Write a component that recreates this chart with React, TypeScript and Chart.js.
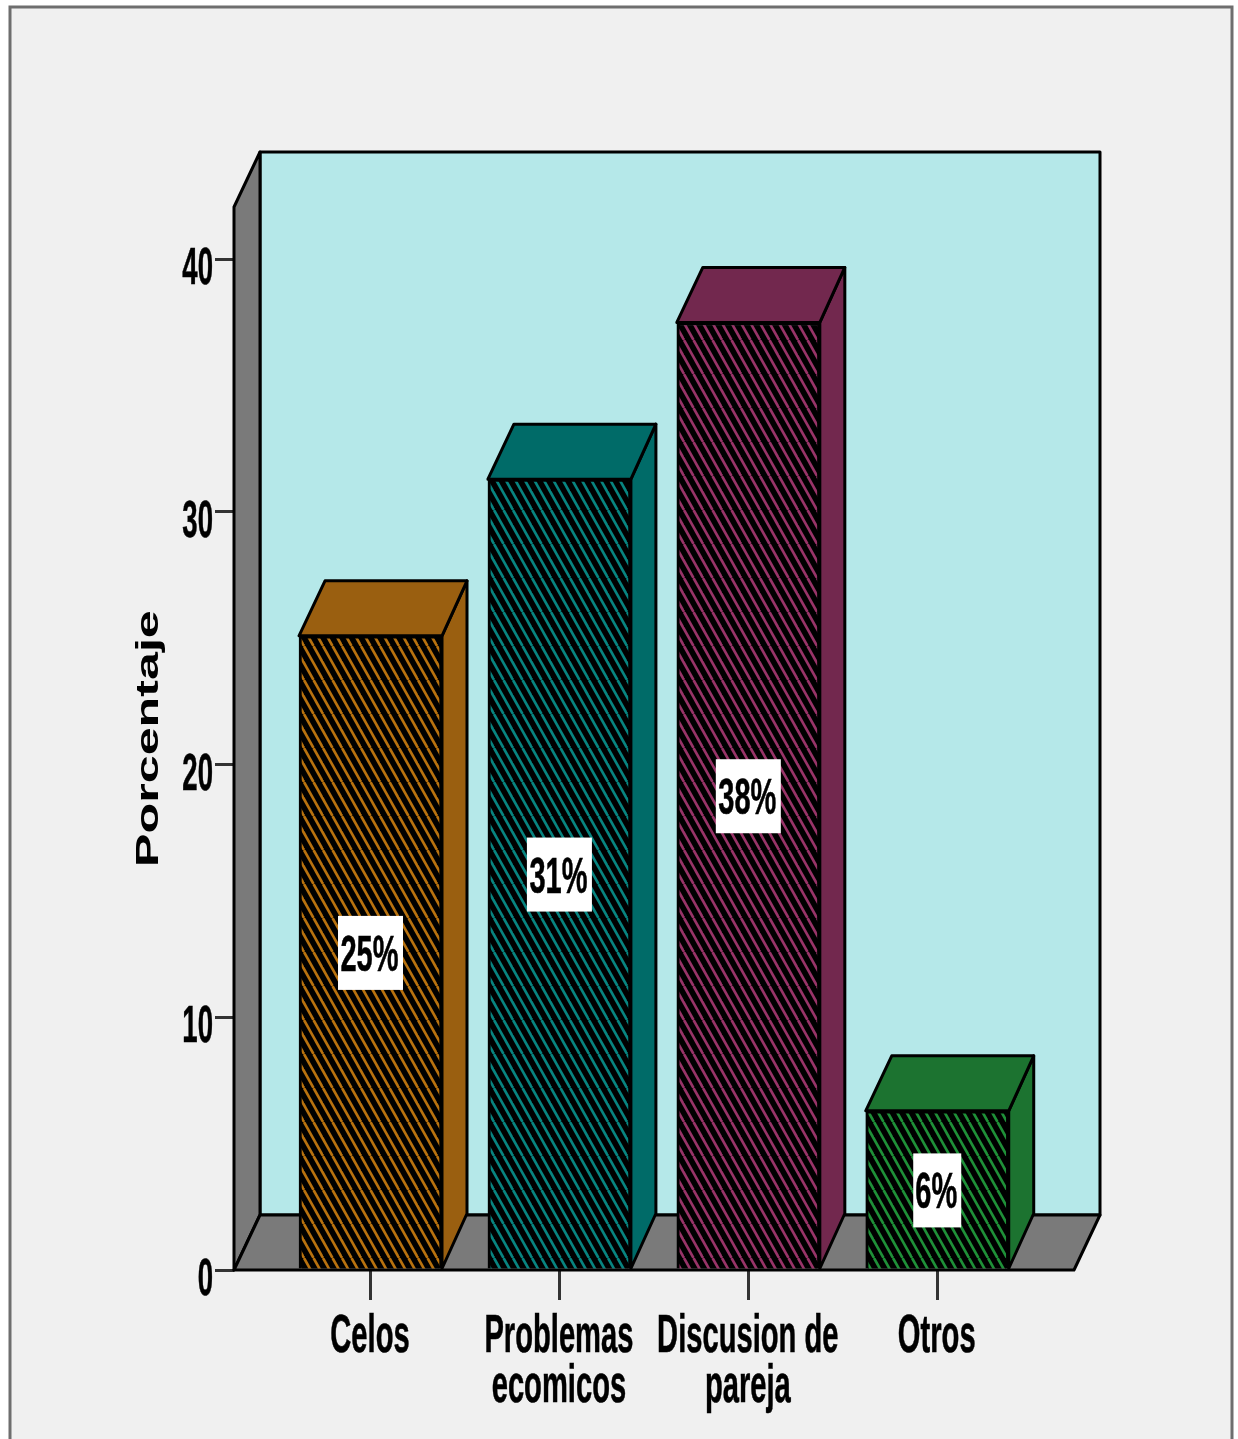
import React, { useEffect, useRef } from "react";
import { Chart, registerables } from "chart.js";

Chart.register(...registerables);

const categories: string[][] = [["Celos"], ["Problemas", "ecomicos"], ["Discusion de", "pareja"], ["Otros"]];
const porcentaje: number[] = [25.1, 31.3, 37.5, 6.3];
const etiquetas: string[] = ["25%", "31%", "38%", "6%"];
const colores: string[] = ["#9A5F10", "#006B68", "#72284E", "#1C7330"];
const hatchStripes: string[] = ["#B8720F", "#088480", "#983468", "#1F9038"];
const yTickValues: number[] = [0, 10, 20, 30, 40];
const xTickValues: number[] = [0, 1, 2, 3];
const yTitle = "Porcentaje";

const DX = 26;
const DY = -55;
const FONT = '"Liberation Sans", Arial, sans-serif';

function stretchedText(ctx: CanvasRenderingContext2D, text: string, x: number, y: number, size: number, sx: number, align: CanvasTextAlign) {
  ctx.save();
  ctx.translate(x, y);
  ctx.scale(sx, 1);
  ctx.font = `bold ${size}px ${FONT}`;
  ctx.textAlign = align;
  ctx.textBaseline = "alphabetic";
  ctx.fillStyle = "#000";
  ctx.strokeStyle = "#000";
  ctx.lineWidth = 0.6;
  ctx.fillText(text, 0, 0);
  ctx.strokeText(text, 0, 0);
  ctx.restore();
}

function poly(ctx: CanvasRenderingContext2D, pts: number[][], fill: string, lw = 3) {
  ctx.beginPath();
  pts.forEach((p, i) => (i ? ctx.lineTo(p[0], p[1]) : ctx.moveTo(p[0], p[1])));
  ctx.closePath();
  ctx.fillStyle = fill;
  ctx.fill();
  ctx.lineWidth = lw;
  ctx.lineJoin = "round";
  ctx.strokeStyle = "#000";
  ctx.stroke();
}

function hatch(base: string, stripe: string): CanvasPattern | string {
  const w = 19;
  const h = 34;
  const c = document.createElement("canvas");
  c.width = w;
  c.height = h;
  const g = c.getContext("2d")!;
  g.fillStyle = "#000";
  g.fillRect(0, 0, w, h);
  g.strokeStyle = stripe;
  g.lineWidth = 2.6;
  for (let k = -4; k <= 4; k++) {
    g.beginPath();
    g.moveTo((k * w) / 2, 0);
    g.lineTo((k * w) / 2 + w, h);
    g.stroke();
  }
  return g.createPattern(c, "repeat") || base;
}

const scene = {
  id: "scene",
  beforeDraw(chart: any) {
    const ctx = chart.ctx as CanvasRenderingContext2D;
    ctx.save();
    ctx.fillStyle = "#FFFFFF";
    ctx.fillRect(0, 0, chart.width, chart.height);
    ctx.fillStyle = "#F0F0F0";
    ctx.fillRect(10, 7, 1222, chart.height - 7);
    ctx.strokeStyle = "#6E6E6E";
    ctx.lineWidth = 3;
    ctx.beginPath();
    ctx.moveTo(10, chart.height);
    ctx.lineTo(10, 7);
    ctx.lineTo(1232, 7);
    ctx.lineTo(1232, chart.height);
    ctx.stroke();
    ctx.restore();
  },
  beforeDatasetsDraw(chart: any) {
    const ctx = chart.ctx as CanvasRenderingContext2D;
    const { left, right, top, bottom } = chart.chartArea;
    ctx.save();
    poly(ctx, [[left + DX, top + DY], [right + DX, top + DY], [right + DX, bottom + DY], [left + DX, bottom + DY]], "#B5E8E9");
    poly(ctx, [[left, top], [left + DX, top + DY], [left + DX, bottom + DY], [left, bottom]], "#7A7A7A");
    poly(ctx, [[left, bottom], [left + DX, bottom + DY], [right + DX, bottom + DY], [right, bottom]], "#7A7A7A");
    const meta = chart.getDatasetMeta(0);
    meta.data.forEach((bar: any, i: number) => {
      const half = bar.width / 2;
      const l = bar.x - half;
      const r = bar.x + half;
      const t = bar.y;
      const b = bar.base;
      poly(ctx, [[r, t], [r + DX - 1, t + DY], [r + DX - 1, b + DY], [r, b]], colores[i]);
      poly(ctx, [[l, t], [l + DX, t + DY], [r + DX - 1, t + DY], [r, t]], colores[i]);
    });
    ctx.restore();
  },
  afterDatasetsDraw(chart: any) {
    const ctx = chart.ctx as CanvasRenderingContext2D;
    const { x, y } = chart.scales;
    ctx.save();
    const meta = chart.getDatasetMeta(0);
    meta.data.forEach((bar: any, i: number) => {
      const cy = y.getPixelForValue(porcentaje[i] / 2);
      const w = etiquetas[i].length === 2 ? 48 : 65;
      ctx.fillStyle = "#FFFFFF";
      ctx.fillRect(bar.x - w / 2, cy - 37, w, 74);
      stretchedText(ctx, etiquetas[i], bar.x - 1, cy + 18, 50, 0.58, "center");
    });
    yTickValues.forEach((v) => {
      stretchedText(ctx, String(v), 213, y.getPixelForValue(v) + 25, 51, 0.54, "right");
    });
    xTickValues.forEach((v, i) => {
      categories[i].forEach((line, j) => {
        stretchedText(ctx, line, x.getPixelForValue(v) - 0.5, 1352 + j * 50, 53, 0.55, "center");
      });
    });
    ctx.translate(158, 867);
    ctx.rotate(-Math.PI / 2);
    ctx.scale(1.62, 1);
    ctx.font = `bold 31px ${FONT}`;
    ctx.fillStyle = "#000";
    ctx.textAlign = "left";
    ctx.fillText(yTitle, 0, 0);
    ctx.restore();
  },
};

export default function App() {
  const ref = useRef<HTMLCanvasElement>(null);
  useEffect(() => {
    document.body.style.margin = "0";
    const chart = new Chart(ref.current!, {
      type: "bar",
      data: {
        datasets: [
          {
            label: yTitle,
            data: porcentaje.map((v, i) => ({ x: xTickValues[i], y: v })),
            backgroundColor: colores.map((c, i) => hatch(c, hatchStripes[i])),
            borderColor: "#000",
            borderWidth: 3,
            barThickness: 143,
          },
        ],
      },
      options: {
        responsive: false,
        animation: false,
        devicePixelRatio: 1,
        layout: { padding: { left: 0, top: 207, right: 164, bottom: 0 } },
        plugins: { legend: { display: false }, tooltip: { enabled: false }, title: { display: false } },
        scales: {
          x: {
            type: "linear",
            min: -0.7226,
            max: 3.724,
            offset: false,
            afterBuildTicks: (s: any) => {
              s.ticks = xTickValues.map((value) => ({ value }));
            },
            afterFit: (s: any) => {
              s.height = 169;
            },
            grid: { display: true, offset: false, drawOnChartArea: false, drawTicks: true, tickLength: 30, tickColor: "#333", tickWidth: 3, lineWidth: 3, color: "#000" },
            border: { display: false },
            ticks: { display: false },
          },
          y: {
            type: "linear",
            min: 0,
            max: 42.07,
            afterBuildTicks: (s: any) => {
              s.ticks = yTickValues.map((value) => ({ value }));
            },
            afterFit: (s: any) => {
              s.width = 234;
            },
            grid: { display: true, drawOnChartArea: false, drawTicks: true, tickLength: 19, tickColor: "#333", tickWidth: 3, lineWidth: 3, color: "#000" },
            border: { display: false },
            ticks: { display: false },
          },
        },
      } as any,
      plugins: [scene],
    });
    return () => chart.destroy();
  }, []);
  return <canvas ref={ref} width={1238} height={1439} style={{ display: "block", filter: "blur(0.6px)" }} />;
}
